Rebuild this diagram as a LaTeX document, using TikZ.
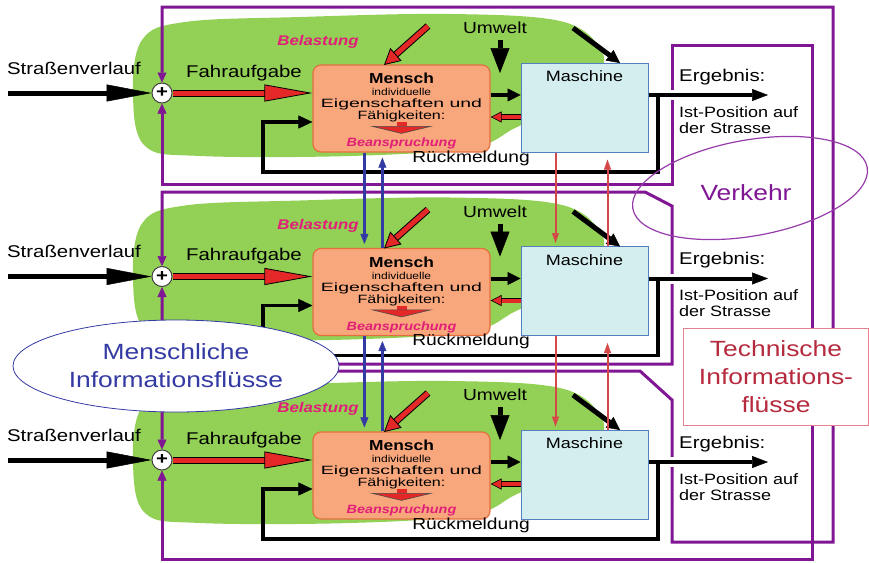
\documentclass[tikz,border=0pt]{standalone}
\usepackage{fontspec}
\usepackage{graphicx}
\setmainfont[FakeStretch=1.2]{Liberation Sans}
\usetikzlibrary{arrows.meta,positioning,calc,shapes.geometric}

\definecolor{blobgreen}{RGB}{146,208,86}
\definecolor{menschfill}{RGB}{248,166,124}
\definecolor{menschdraw}{RGB}{228,112,62}
\definecolor{maschfill}{RGB}{212,238,240}
\definecolor{maschdraw}{RGB}{84,128,192}
\definecolor{lila}{RGB}{128,22,148}
\definecolor{lilathin}{RGB}{150,60,170}
\definecolor{belpink}{RGB}{226,30,120}
\definecolor{infoblau}{RGB}{52,58,164}
\definecolor{redarr}{RGB}{228,40,40}
\definecolor{redthin}{RGB}{212,72,72}
\definecolor{technrot}{RGB}{182,42,62}
\definecolor{technrand}{RGB}{230,130,145}

\newcommand{\fsz}[1]{\fontsize{#1}{#1}\selectfont}

\begin{document}
\begin{tikzpicture}[x=1pt, y=-1pt,
  blob/.style      = {fill=blobgreen},
  mbox/.style      = {draw=menschdraw, fill=menschfill, rounded corners=8pt, line width=1.2pt,
                      minimum width=177pt, minimum height=87pt, inner sep=0pt},
  kbox/.style      = {draw=maschdraw, fill=maschfill, line width=1pt,
                      minimum width=127pt, minimum height=89pt, inner sep=0pt},
  sumdot/.style    = {circle, draw=black!75, fill=white, line width=1pt, minimum size=20pt,
                      inner sep=0pt, font=\fsz{17}\bfseries},
  lbl/.style       = {inner sep=0pt, font=\fsz{16}},
  pinktxt/.style   = {inner sep=0pt, text=belpink},
  bigblack/.style  = {line width=5pt, -{Triangle[length=45pt,width=17pt,line width=0.5pt]}},
  bigred/.style    = {draw=redarr, line width=5pt,
                      -{Triangle[length=48pt,width=17pt,color=black,fill=redarr,line width=0.8pt]},
                      preaction={draw=black, line width=7pt, -, shorten >=30pt}},
  midred/.style    = {draw=redarr, line width=5pt,
                      -{Triangle[length=16pt,width=17pt,color=black,fill=redarr,line width=0.8pt]},
                      preaction={draw=black, line width=7pt, -, shorten >=8pt}},
  smallred/.style  = {draw=redarr, line width=4pt,
                      -{Triangle[length=11pt,width=11pt,color=black,fill=redarr,line width=0.6pt]},
                      preaction={draw=black, line width=5.5pt, -, shorten >=5pt}},
  blackarr/.style  = {line width=4pt, -{Triangle[length=13pt,width=13pt,line width=0.5pt]}},
  envarr/.style    = {line width=5pt, -{Triangle[length=25pt,width=19pt,line width=0.5pt]}},
  feedback/.style  = {line width=3.5pt, -{Triangle[length=14pt,width=13pt,line width=0.5pt]}},
  outarr/.style    = {line width=4pt, -{Triangle[length=16pt,width=12pt,line width=0.5pt]},
                      preaction={draw=white, line width=10pt, -, shorten >=16pt}},
  lilaline/.style  = {draw=lila, line width=3pt,
                      {Triangle[length=10pt,width=9pt,line width=0.5pt]}-{Triangle[length=10pt,width=9pt,line width=0.5pt]}},
  blueflow/.style  = {draw=infoblau, line width=2.5pt, -{Triangle[length=10pt,width=8pt,line width=0.5pt]}},
  redflow/.style   = {draw=redthin, line width=2pt, -{Triangle[length=10pt,width=7pt,line width=0.5pt]}},
]
\useasboundingbox (0,0) rectangle (869,562);
%
% green fields
\foreach \row in {0,1,2}
{
    \pgfmathsetmacro{\dy}{183.5*\row}
    \fill[blob, shift={(0,\dy)}] plot[smooth cycle, tension=0.6] coordinates
      {(133,95) (142,40) (185,22) (300,17) (450,14) (560,21) (600,48) (598,75)
       (555,108) (515,128) (470,148) (350,156) (200,156) (145,146)};
}
%
% blocks
\foreach \row in {0,1,2}
{
    \pgfmathsetmacro{\dy}{183.5*\row}
    \node[sumdot] (plus\row)   at (162,93+\dy)      {+};
    \node[mbox]   (mensch\row) at (401.5,108.5+\dy) {};
    \node[kbox]   (masch\row)  at (584.5,107.5+\dy) {};
}
%
% traffic loops
\draw[lilaline] (plus2.north) -- (162,371) -- (640,371) -- (672,400) -- (672,542)
    -- (833,542) -- (833,7) -- (162,7) -- (plus0.north);
\draw[lilaline] (plus0.south) -- (162,184) -- (672,184) -- (672,45) -- (812,45)
    -- (812,559) -- (162,559) -- (plus2.south);
\draw[lilaline] (plus1.north) -- (162,192) -- (645,192) -- (672,206) -- (672,364)
    -- (162,364) -- (plus1.south);
%
% arrows of each loop
\foreach \row in {0,1,2}
{
    \pgfmathsetmacro{\dy}{183.5*\row}
    \coordinate (sv\row)   at (8,93+\dy);
    \coordinate (bl\row)   at (428,26+\dy);
    \coordinate (blE\row)  at (384,65+\dy);
    \coordinate (uw\row)   at (500,40+\dy);
    \coordinate (uwE\row)  at (500,73+\dy);
    \coordinate (env\row)  at (573,28+\dy);
    \coordinate (envE\row) at (620,63+\dy);
    \coordinate (mk\row)   at (500,95+\dy);
    \coordinate (km\row)   at (500,117+\dy);
    \coordinate (out\row)  at (768,95+\dy);
    \coordinate (fb\row)   at (658,95+\dy);
    \coordinate (fc\row)   at (263,172+\dy);
    \coordinate (fd\row)   at (300,122+\dy);
    \draw[bigblack] (sv\row) -- (plus\row);
    \draw[bigred] (plus\row) -- (mensch\row.west |- plus\row);
    \draw[midred] (bl\row) -- (blE\row);
    \draw[envarr] (uw\row) -- (uwE\row);
    \draw[blackarr, line width=5pt] (env\row) -- (envE\row);
    \draw[blackarr] (mensch\row.east |- mk\row) -- (masch\row.west |- mk\row);
    \draw[smallred] (masch\row.west |- km\row) -- (mensch\row.east |- km\row);
    \draw[outarr] (masch\row.east |- out\row) -- (out\row);
    \draw[feedback] (fb\row) |- (fc\row) |- (mensch\row.west |- fd\row);
    \fill[redarr] ($(mensch\row.north)+(-5,58)$) rectangle ++(10,4);
    \filldraw[draw=black!70, fill=redarr, line width=0.6pt]
      ($(mensch\row.north)+(-29,62)$) -- ++(58,0) -- ++(-29,7) -- cycle;
}
%
% flows between the loops
\foreach \i/\j in {0/1,1/2}
{
    \draw[blueflow] ($(mensch\i.south west)+(52,0)$) -- ($(mensch\j.north west)+(52,-4)$);
    \draw[blueflow] ($(mensch\j.north west)+(70,0)$) -- ($(mensch\i.south west)+(70,5)$);
    \draw[redflow]  ($(masch\i.south west)+(35,0)$)  -- ($(masch\j.north west)+(35,-3)$);
    \draw[redflow]  ($(masch\j.north west)+(87,0)$)  -- ($(masch\i.south west)+(87,7)$);
}
%
% legends
\draw[lilathin, line width=1.2pt] (750,188) ellipse [x radius=119, y radius=48, rotate=10];
\node[lbl, text=lila, font=\fsz{22}] (verkehr) at (746,193) {Verkehr};
\node[ellipse, draw=infoblau, line width=0.8pt, fill=white, minimum width=326pt, minimum height=92pt,
      inner sep=0pt, text=infoblau, align=center, font=\fontsize{22}{28}\selectfont]
      (human) at (176,366) {Menschliche\\Informationsflüsse};
\node[draw=technrand, line width=0.8pt, fill=white, minimum width=185pt, minimum height=97pt,
      inner sep=0pt, text=technrot, align=center, font=\fontsize{22}{28}\selectfont]
      (tech) at (776,376.5) {Technische\\Informations-\\flüsse};
%
% texts of each loop
\foreach \row in {0,1,2}
{
    \pgfmathsetmacro{\dy}{183.5*\row}
    \node[lbl, font=\fsz{17}] (sv\row t) at (74,68+\dy)  {Straßenverlauf};
    \node[lbl, font=\fsz{17}] (fa\row t) at (244,73+\dy) {Fahraufgabe};
    \node[pinktxt, font=\fsz{14}\bfseries\itshape] (bl\row t) at (318,42+\dy) {Belastung};
    \node[lbl] (uw\row t) at (495,28+\dy) {Umwelt};
    \node[lbl] (rm\row t) at (471,158+\dy) {Rückmeldung};
    \node[lbl, font=\fsz{17}, anchor=west] (er\row t) at (679,77+\dy) {Ergebnis:};
    \node[lbl, font=\fontsize{15}{16}\selectfont, anchor=west, align=left] (ip\row t)
      at (679,120+\dy) {Ist-Position auf\\der Strasse};
    \node[lbl, font=\fsz{15}] (ma\row t) at ($(masch\row.north)+(0,14)$) {Maschine};
    \node[lbl, font=\fsz{14.5}\bfseries] (me\row t) at ($(mensch\row.north)+(0,14)$) {Mensch};
    \node[lbl, font=\fsz{10}] (in\row t) at ($(mensch\row.north)+(0,28)$) {individuelle};
    \node[lbl, font=\fsz{12}] (ei\row t) at ($(mensch\row.north)+(0,40)$)
      {\scalebox{1.35}[1]{Eigenschaften und}};
    \node[lbl, font=\fsz{12}] (fh\row t) at ($(mensch\row.north)+(0,52)$)
      {\scalebox{1.12}[1]{Fähigkeiten:}};
    \node[pinktxt, font=\fsz{12}\bfseries\itshape] (be\row t) at ($(mensch\row.north)+(0,79)$) {Beanspruchung};
}
\end{tikzpicture}
\end{document}
